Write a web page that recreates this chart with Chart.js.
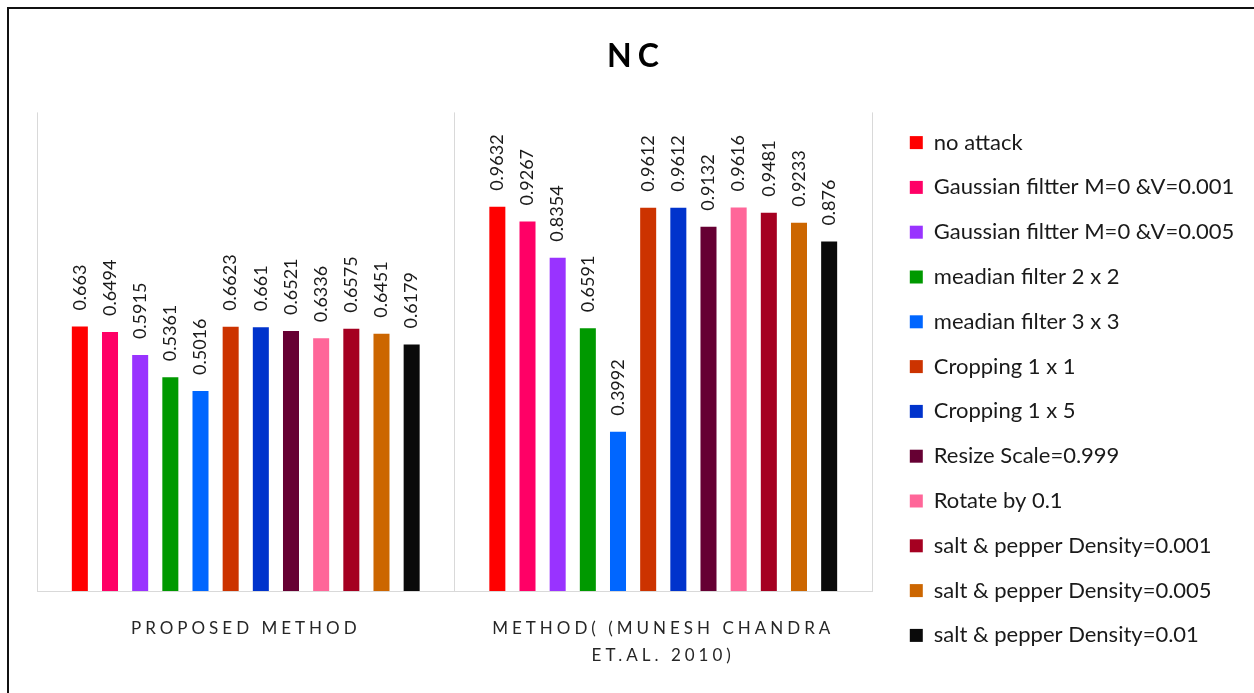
<!DOCTYPE html>
<html>
<head>
<meta charset="utf-8">
<script src="https://cdn.jsdelivr.net/npm/chart.js@4/dist/chart.umd.min.js"></script>
<style>
  html, body { margin: 0; padding: 0; background: #fff; overflow: hidden; width: 1254px; height: 693px; }
  #frame { position: absolute; left: 7px; top: 7px; width: 1300px; height: 800px;
           border-left: 2px solid #111; border-top: 2px solid #111; }
  #c { position: absolute; left: 0; top: 0; }
</style>
</head>
<body>
<div id="frame"><canvas id="c" width="1254" height="760"></canvas></div>
<script>
// Categories on the x axis
const categories = ['PROPOSED METHOD', ['METHOD( (MUNESH CHANDRA', 'ET.AL. 2010)']];

// Attack types (one series each)
const attacks = [
  'no attack',
  'Gaussian filtter M=0 &V=0.001',
  'Gaussian filtter M=0 &V=0.005',
  'meadian filter 2 x 2',
  'meadian filter 3 x 3',
  'Cropping 1 x 1',
  'Cropping 1 x 5',
  'Resize Scale=0.999',
  'Rotate by 0.1',
  'salt & pepper Density=0.001',
  'salt & pepper Density=0.005',
  'salt & pepper Density=0.01'
];

// NC values per attack
const proposedNC = [0.663, 0.6494, 0.5915, 0.5361, 0.5016, 0.6623, 0.661, 0.6521, 0.6336, 0.6575, 0.6451, 0.6179];
const chandraNC  = [0.9632, 0.9267, 0.8354, 0.6591, 0.3992, 0.9612, 0.9612, 0.9132, 0.9616, 0.9481, 0.9233, 0.876];

const colors = ['#FF0000', '#FF0066', '#9933FF', '#009900', '#0066FF', '#CC3300',
                '#0033CC', '#660033', '#FF6699', '#A50021', '#CC6600', '#0A0A0A'];

const datasets = attacks.map((name, i) => ({
  label: name,
  data: [proposedNC[i], chandraNC[i]],
  backgroundColor: colors[i],
  borderWidth: 0,
  categoryPercentage: 0.867,
  barPercentage: 0.531
}));

const FONT = 'Lato, "Open Sans", sans-serif';
const LEGEND_W = 391;

// Custom tweaks: fixed legend width/offset, letter-spaced title and axis labels
const tweaks = {
  id: 'tweaks',
  beforeLayout(chart) {
    const lg = chart.legend;
    if (lg && !lg._patched) {
      const fit = lg.fit;
      lg.fit = function () { fit.call(this); this.width = LEGEND_W; };
      const draw = lg.draw;
      lg.draw = function () {
        const c = this.ctx; c.save(); c.translate(15, 0); draw.call(this); c.restore();
      };
      lg._patched = true;
    }
    const tb = chart.titleBlock;
    if (tb && !tb._patched) {
      const draw = tb.draw;
      tb.draw = function () {
        const c = this.ctx; c.letterSpacing = '6px'; draw.call(this); c.letterSpacing = '0px';
      };
      tb._patched = true;
    }
    const sx = chart.scales.x;
    if (sx && !sx._patched) {
      const dl = sx.drawLabels;
      sx.drawLabels = function (a) {
        const c = this.ctx; c.letterSpacing = '4px'; dl.call(this, a); c.letterSpacing = '0px';
      };
      sx._patched = true;
    }
  },
  afterDatasetsDraw(chart) {
    // value labels, rotated, above each bar
    const ctx = chart.ctx;
    ctx.save();
    ctx.font = '18px ' + FONT;
    ctx.fillStyle = '#1a1a1a';
    ctx.textAlign = 'left';
    ctx.textBaseline = 'middle';
    chart.data.datasets.forEach((ds, di) => {
      const meta = chart.getDatasetMeta(di);
      meta.data.forEach((el, j) => {
        ctx.save();
        ctx.translate(el.x, el.y - 16);
        ctx.rotate(-Math.PI / 2);
        ctx.fillText(String(ds.data[j]), 0, 0);
        ctx.restore();
      });
    });
    ctx.restore();
  }
};

new Chart(document.getElementById('c'), {
  type: 'bar',
  data: { labels: categories, datasets },
  options: {
    responsive: false,
    animation: false,
    layout: { padding: 0 },
    scales: {
      x: {
        grid: { display: true, color: '#d9d9d9', lineWidth: 1, drawTicks: false, offset: true },
        border: { display: true, color: '#d9d9d9', width: 1 },
        ticks: {
          color: '#262626',
          font: { family: FONT, size: 17, lineHeight: 1.57 },
          padding: 24,
          maxRotation: 0,
          autoSkip: false
        },
        afterFit(s) { s.height = 178; }
      },
      y: {
        min: 0,
        max: 1.2,
        grid: { display: false },
        border: { display: false },
        ticks: { display: false },
        afterFit(s) { s.width = 28; }
      }
    },
    plugins: {
      title: {
        display: true,
        text: 'NC',
        color: '#000',
        font: { family: FONT, size: 32, weight: 'bold' },
        padding: { top: 28, bottom: 37 }
      },
      legend: {
        display: true,
        position: 'right',
        align: 'center',
        labels: {
          color: '#1a1a1a',
          font: { family: FONT, size: 22 },
          boxWidth: 13,
          boxHeight: 13,
          padding: 22.8
        }
      },
      tooltip: { enabled: false }
    }
  },
  plugins: [tweaks]
});
</script>
</body>
</html>
